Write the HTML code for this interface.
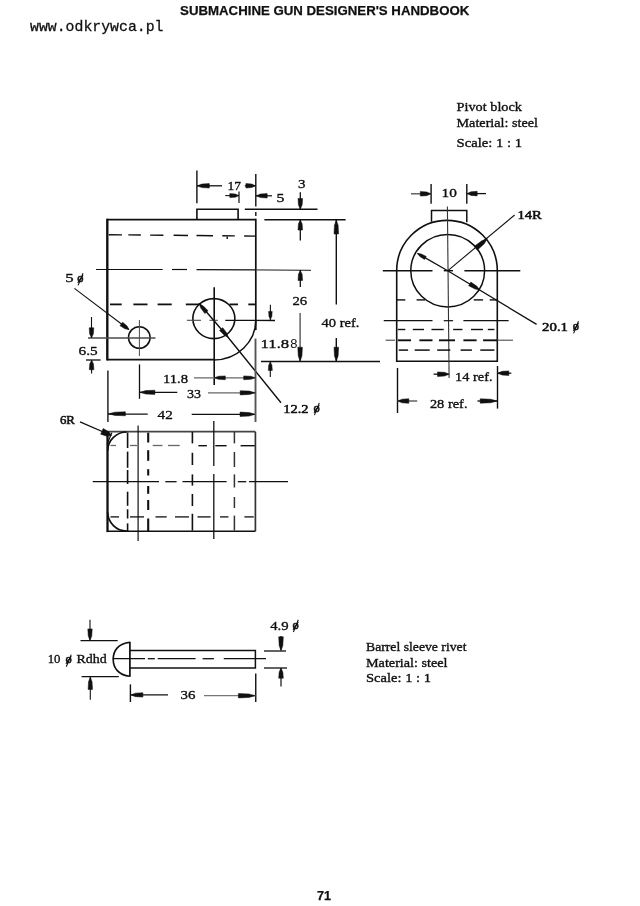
<!DOCTYPE html>
<html lang="en">
<head>
<meta charset="utf-8">
<title>Submachine Gun Designer's Handbook - page 71</title>
<style>
html,body{margin:0;padding:0;background:#fff;}
body{width:640px;height:906px;overflow:hidden;position:relative;}
svg{display:block;position:absolute;left:0;top:0;filter:blur(0.45px);}
text{fill:#101010;}
.s{font-family:"Liberation Serif","DejaVu Serif",serif;}
.ss{font-family:"Liberation Sans","DejaVu Sans",sans-serif;}
.hb{font-family:"Liberation Sans","DejaVu Sans",sans-serif;font-weight:bold;stroke:#101010;stroke-width:0.25px;}
.m{font-family:"Liberation Mono","DejaVu Sans Mono",monospace;stroke:#101010;stroke-width:0.3px;}
.b{stroke:#101010;stroke-width:0.35px;}
.bb{stroke:#101010;stroke-width:0.55px;}
</style>
</head>
<body>
<svg width="640" height="906" viewBox="0 0 640 906">
<text x="324.7" y="15.2" font-size="12.7" class="hb" text-anchor="middle" textLength="289.2" lengthAdjust="spacingAndGlyphs" >SUBMACHINE GUN DESIGNER&#39;S HANDBOOK</text>
<text x="30" y="31" font-size="15" class="m" text-anchor="start" textLength="133.5" lengthAdjust="spacingAndGlyphs" >www.odkrywca.pl</text>
<text x="456.5" y="111.1" font-size="13.3" class="s b" text-anchor="start" textLength="65.5" lengthAdjust="spacingAndGlyphs" >Pivot block</text>
<text x="456.5" y="126.6" font-size="13.3" class="s b" text-anchor="start" textLength="81.5" lengthAdjust="spacingAndGlyphs" >Material: steel</text>
<text x="456.5" y="146.6" font-size="13.3" class="s b" text-anchor="start" textLength="65.5" lengthAdjust="spacingAndGlyphs" >Scale: 1 : 1</text>
<text x="366" y="651.4" font-size="13.3" class="s b" text-anchor="start" textLength="100.5" lengthAdjust="spacingAndGlyphs" >Barrel sleeve rivet</text>
<text x="366" y="666.7" font-size="13.3" class="s b" text-anchor="start" textLength="81.5" lengthAdjust="spacingAndGlyphs" >Material: steel</text>
<text x="366" y="681.8" font-size="13.3" class="s b" text-anchor="start" textLength="65" lengthAdjust="spacingAndGlyphs" >Scale: 1 : 1</text>
<text x="324.1" y="900" font-size="12.6" class="hb" text-anchor="middle" >71</text>
<path d="M107.3,219.6 L255.8,219.6" fill="none" stroke="#101010" stroke-width="1.9" stroke-linejoin="miter"/>
<path d="M107.3,218.7 L107.3,360.5" fill="none" stroke="#101010" stroke-width="2.4" stroke-linejoin="miter"/>
<path d="M107.3,359.6 L214.0,359.6" fill="none" stroke="#101010" stroke-width="1.9" stroke-linejoin="miter"/>
<path d="M255.8,218.7 L255.8,330" fill="none" stroke="#101010" stroke-width="1.7" stroke-linejoin="miter"/>
<path d="M214.0,359.90000000000003 A41.8,39.9 0 0 0 255.8,320" fill="none" stroke="#101010" stroke-width="1.5" stroke-linejoin="miter"/>
<path d="M196.9,219.6 L196.9,209.3 L238.1,209.3 L238.1,219.6" fill="none" stroke="#101010" stroke-width="1.6" stroke-linejoin="miter"/>
<line x1="108.75" y1="234.71" x2="122" y2="234.83" stroke="#101010" stroke-width="1.4"/>
<line x1="128.3" y1="234.89" x2="140.8" y2="235.01" stroke="#101010" stroke-width="1.4"/>
<line x1="150.2" y1="235.1" x2="163.4" y2="235.23" stroke="#101010" stroke-width="1.4"/>
<line x1="173.6" y1="235.32" x2="188" y2="235.46" stroke="#101010" stroke-width="1.4"/>
<line x1="196.5" y1="235.54" x2="213" y2="235.7" stroke="#101010" stroke-width="1.4"/>
<line x1="222.3" y1="235.79" x2="234.8" y2="235.9" stroke="#101010" stroke-width="1.4"/>
<line x1="244.2" y1="235.99" x2="255" y2="236.1" stroke="#101010" stroke-width="1.4"/>
<line x1="227.2" y1="236.5" x2="227.2" y2="239" stroke="#101010" stroke-width="1.4"/>
<line x1="96" y1="269.5" x2="162.7" y2="269.5" stroke="#101010" stroke-width="1.2"/>
<line x1="172" y1="269.5" x2="187" y2="269.5" stroke="#101010" stroke-width="1.2"/>
<line x1="196.5" y1="269.7" x2="255.8" y2="269.9" stroke="#101010" stroke-width="1.2"/>
<line x1="255.8" y1="269.9" x2="311" y2="270.4" stroke="#4a4a4a" stroke-width="1.3"/>
<line x1="110" y1="304.4" x2="121.7" y2="304.4" stroke="#101010" stroke-width="1.8"/>
<line x1="133.4" y1="304.4" x2="147.5" y2="304.4" stroke="#101010" stroke-width="1.8"/>
<line x1="157.6" y1="304.4" x2="171.7" y2="304.4" stroke="#101010" stroke-width="1.8"/>
<line x1="185.8" y1="304.4" x2="199" y2="304.4" stroke="#101010" stroke-width="1.8"/>
<line x1="229.5" y1="304.4" x2="238" y2="304.4" stroke="#101010" stroke-width="1.8"/>
<line x1="248.3" y1="304.4" x2="255.3" y2="304.4" stroke="#101010" stroke-width="1.8"/>
<circle cx="139.3" cy="337.5" r="10.8" fill="none" stroke="#101010" stroke-width="1.5"/>
<ellipse cx="213.85" cy="318.6" rx="21.0" ry="20.0" fill="none" stroke="#101010" stroke-width="1.6"/>
<line x1="139.4" y1="320" x2="139.4" y2="356" stroke="#4a4a4a" stroke-width="1.0"/>
<line x1="88" y1="338" x2="155.5" y2="338" stroke="#4a4a4a" stroke-width="1.4"/>
<line x1="214.2" y1="287.3" x2="214.2" y2="385" stroke="#101010" stroke-width="1.6"/>
<line x1="186.9" y1="320.3" x2="201" y2="320.3" stroke="#4a4a4a" stroke-width="1.1"/>
<line x1="209.4" y1="320.3" x2="217.8" y2="320.3" stroke="#4a4a4a" stroke-width="1.1"/>
<line x1="225.3" y1="320.4" x2="275" y2="320.5" stroke="#101010" stroke-width="1.3"/>
<path d="M199.0,303.2 L226.2,335.0 L281,402.7" fill="none" stroke="#101010" stroke-width="1.4" stroke-linejoin="miter"/>
<polygon points="199.30,303.80 203.29,305.89 208.04,310.80 204.85,313.53 200.74,308.07" fill="#101010" stroke="#101010" stroke-width="0.5" stroke-linejoin="round"/>
<polygon points="228.30,337.40 224.31,335.31 219.56,330.40 222.75,327.67 226.86,333.13" fill="#101010" stroke="#101010" stroke-width="0.5" stroke-linejoin="round"/>
<text x="283.35" y="413" font-size="13.3" class="s bb" text-anchor="start" textLength="25.25" lengthAdjust="spacingAndGlyphs" >12.2</text>
<text x="316.6" y="411.77" font-size="12.5" class="s bb" text-anchor="middle">ø</text>
<line x1="314.4" y1="415.1" x2="319.3" y2="402.9" stroke="#101010" stroke-width="1.1"/>
<line x1="74.4" y1="288.4" x2="128.75" y2="329.5" stroke="#101010" stroke-width="1.1"/>
<polygon points="128.90,329.60 124.96,328.83 119.99,325.64 122.64,322.13 127.08,326.02" fill="#101010" stroke="#101010" stroke-width="0.5" stroke-linejoin="round"/>
<text x="65.2" y="281.9" font-size="13.3" class="s b" text-anchor="start" textLength="8.4" lengthAdjust="spacingAndGlyphs" >5</text>
<text x="80.3" y="282.07" font-size="12.5" class="s bb" text-anchor="middle">ø</text>
<line x1="78.1" y1="285.4" x2="83.0" y2="273.2" stroke="#101010" stroke-width="1.1"/>
<line x1="91.5" y1="317" x2="91.5" y2="338" stroke="#101010" stroke-width="1.1"/>
<polygon points="91.50,337.80 89.66,334.00 89.20,327.80 93.80,327.80 93.34,334.00" fill="#101010" stroke="#101010" stroke-width="0.5" stroke-linejoin="round"/>
<line x1="86" y1="360" x2="100.6" y2="360" stroke="#101010" stroke-width="1.3"/>
<line x1="91.6" y1="360" x2="91.6" y2="373.5" stroke="#101010" stroke-width="1.1"/>
<polygon points="91.60,360.20 93.44,363.81 93.90,369.70 89.30,369.70 89.76,363.81" fill="#101010" stroke="#101010" stroke-width="0.5" stroke-linejoin="round"/>
<text x="78.6" y="354.5" font-size="13.3" class="s b" text-anchor="start" textLength="19.1" lengthAdjust="spacingAndGlyphs" >6.5</text>
<line x1="196.9" y1="170.5" x2="196.9" y2="203.3" stroke="#101010" stroke-width="1.4"/>
<line x1="255.8" y1="174" x2="255.8" y2="206.4" stroke="#101010" stroke-width="1.4"/>
<line x1="255.8" y1="212" x2="255.8" y2="216" stroke="#101010" stroke-width="1.4"/>
<line x1="196.9" y1="185.8" x2="222" y2="185.8" stroke="#101010" stroke-width="1.3"/>
<polygon points="197.30,185.80 201.86,184.04 209.30,183.60 209.30,188.00 201.86,187.56" fill="#101010" stroke="#101010" stroke-width="0.5" stroke-linejoin="round"/>
<line x1="244.8" y1="185.8" x2="255.8" y2="185.8" stroke="#101010" stroke-width="1.3"/>
<polygon points="255.40,185.80 251.79,187.56 245.90,188.00 245.90,183.60 251.79,184.04" fill="#101010" stroke="#101010" stroke-width="0.5" stroke-linejoin="round"/>
<text x="227.6" y="190" font-size="13.3" class="s b" text-anchor="start" textLength="13.5" lengthAdjust="spacingAndGlyphs" >17</text>
<line x1="239" y1="191.5" x2="239" y2="203" stroke="#101010" stroke-width="1.2"/>
<line x1="225.3" y1="195.6" x2="239" y2="195.6" stroke="#101010" stroke-width="1.1"/>
<polygon points="238.80,195.60 235.38,197.20 229.80,197.60 229.80,193.60 235.38,194.00" fill="#101010" stroke="#101010" stroke-width="0.5" stroke-linejoin="round"/>
<line x1="255.8" y1="195.8" x2="272" y2="195.8" stroke="#101010" stroke-width="1.2"/>
<polygon points="256.20,195.80 260.38,194.04 267.20,193.60 267.20,198.00 260.38,197.56" fill="#101010" stroke="#101010" stroke-width="0.5" stroke-linejoin="round"/>
<text x="276.6" y="202" font-size="13.3" class="s b" text-anchor="start" textLength="7.9" lengthAdjust="spacingAndGlyphs" >5</text>
<text x="298.0" y="188.4" font-size="13.3" class="s b" text-anchor="start" textLength="7.5" lengthAdjust="spacingAndGlyphs" >3</text>
<line x1="244.8" y1="209.3" x2="317.5" y2="209.3" stroke="#101010" stroke-width="1.5"/>
<line x1="264.4" y1="219.7" x2="345.6" y2="219.7" stroke="#101010" stroke-width="1.5"/>
<line x1="300.3" y1="192.3" x2="300.3" y2="209.2" stroke="#101010" stroke-width="1.3"/>
<polygon points="300.30,209.00 298.46,205.01 298.00,198.50 302.60,198.50 302.14,205.01" fill="#101010" stroke="#101010" stroke-width="0.5" stroke-linejoin="round"/>
<line x1="300.3" y1="219.7" x2="300.3" y2="240.5" stroke="#101010" stroke-width="1.3"/>
<polygon points="300.30,220.00 302.14,223.80 302.60,230.00 298.00,230.00 298.46,223.80" fill="#101010" stroke="#101010" stroke-width="0.5" stroke-linejoin="round"/>
<line x1="336.3" y1="219.7" x2="336.3" y2="304.5" stroke="#101010" stroke-width="1.4"/>
<polygon points="336.30,220.00 338.14,225.32 338.60,234.00 334.00,234.00 334.46,225.32" fill="#101010" stroke="#101010" stroke-width="0.5" stroke-linejoin="round"/>
<line x1="336.3" y1="338" x2="336.3" y2="361.5" stroke="#101010" stroke-width="1.4"/>
<polygon points="336.30,361.20 334.46,355.88 334.00,347.20 338.60,347.20 338.14,355.88" fill="#101010" stroke="#101010" stroke-width="0.5" stroke-linejoin="round"/>
<text x="321.5" y="327.3" font-size="13.3" class="s b" text-anchor="start" textLength="37.9" lengthAdjust="spacingAndGlyphs" >40 ref.</text>
<line x1="300.3" y1="270" x2="300.3" y2="287" stroke="#101010" stroke-width="1.3"/>
<polygon points="300.30,270.50 302.14,274.30 302.60,280.50 298.00,280.50 298.46,274.30" fill="#101010" stroke="#101010" stroke-width="0.5" stroke-linejoin="round"/>
<line x1="300.1" y1="313" x2="300.1" y2="361.5" stroke="#4a4a4a" stroke-width="1.3"/>
<polygon points="300.10,361.20 298.26,355.88 297.80,347.20 302.40,347.20 301.94,355.88" fill="#101010" stroke="#101010" stroke-width="0.5" stroke-linejoin="round"/>
<text x="292.4" y="305.2" font-size="13.3" class="s b" text-anchor="start" textLength="14.7" lengthAdjust="spacingAndGlyphs" >26</text>
<line x1="261" y1="361.6" x2="380" y2="361.6" stroke="#101010" stroke-width="1.5"/>
<text x="260.6" y="348.4" font-size="13.3" class="s b" text-anchor="start" textLength="28.65" lengthAdjust="spacingAndGlyphs" >11.8</text>
<text x="290.2" y="348.4" font-size="13" class="ss" text-anchor="start" textLength="7.2" lengthAdjust="spacingAndGlyphs" >8</text>
<line x1="270.4" y1="304.7" x2="270.4" y2="320" stroke="#101010" stroke-width="1.1"/>
<polygon points="270.40,319.40 268.96,316.36 268.60,311.40 272.20,311.40 271.84,316.36" fill="#101010" stroke="#101010" stroke-width="0.5" stroke-linejoin="round"/>
<line x1="270.3" y1="361.5" x2="270.3" y2="377" stroke="#101010" stroke-width="1.1"/>
<polygon points="270.30,361.90 271.90,365.13 272.30,370.40 268.30,370.40 268.70,365.13" fill="#101010" stroke="#101010" stroke-width="0.5" stroke-linejoin="round"/>
<line x1="255.5" y1="338.6" x2="255.5" y2="422" stroke="#555" stroke-width="1.9"/>
<text x="162.9" y="382.8" font-size="13.3" class="s b" text-anchor="start" textLength="25.1" lengthAdjust="spacingAndGlyphs" >11.8</text>
<line x1="194" y1="377.8" x2="255" y2="377.8" stroke="#666" stroke-width="1.2"/>
<polygon points="214.30,377.80 218.48,376.28 225.30,375.90 225.30,379.70 218.48,379.32" fill="#101010" stroke="#101010" stroke-width="0.5" stroke-linejoin="round"/>
<polygon points="255.20,377.80 250.83,379.32 243.70,379.70 243.70,375.90 250.83,376.28" fill="#101010" stroke="#101010" stroke-width="0.5" stroke-linejoin="round"/>
<line x1="139.5" y1="364.4" x2="139.5" y2="398.8" stroke="#101010" stroke-width="1.3"/>
<line x1="139.5" y1="392.3" x2="177.3" y2="392.3" stroke="#101010" stroke-width="1.3"/>
<polygon points="139.90,392.30 145.60,390.62 154.90,390.20 154.90,394.40 145.60,393.98" fill="#101010" stroke="#101010" stroke-width="0.5" stroke-linejoin="round"/>
<line x1="208" y1="392.8" x2="255" y2="392.8" stroke="#666" stroke-width="1.3"/>
<polygon points="255.20,392.80 249.50,394.48 240.20,394.90 240.20,390.70 249.50,391.12" fill="#101010" stroke="#101010" stroke-width="0.5" stroke-linejoin="round"/>
<text x="187.1" y="397.5" font-size="13.3" class="s b" text-anchor="start" textLength="14.0" lengthAdjust="spacingAndGlyphs" >33</text>
<line x1="107.9" y1="370.6" x2="107.9" y2="422" stroke="#333" stroke-width="1.6"/>
<line x1="108" y1="414.1" x2="147.7" y2="414.1" stroke="#101010" stroke-width="1.3"/>
<polygon points="108.40,413.80 114.86,412.20 125.40,411.80 125.40,415.80 114.86,415.40" fill="#101010" stroke="#101010" stroke-width="0.5" stroke-linejoin="round"/>
<line x1="191.7" y1="414.3" x2="254.3" y2="414.3" stroke="#101010" stroke-width="1.3"/>
<polygon points="255.00,414.30 249.30,416.06 240.00,416.50 240.00,412.10 249.30,412.54" fill="#101010" stroke="#101010" stroke-width="0.5" stroke-linejoin="round"/>
<text x="157.6" y="418.8" font-size="13.3" class="s b" text-anchor="start" textLength="15.2" lengthAdjust="spacingAndGlyphs" >42</text>
<path d="M396.7,361.3 L396.7,270.6 A50.3,50.3 0 0 1 497.3,270.6 L497.3,361.3 Z" fill="none" stroke="#101010" stroke-width="1.6" stroke-linejoin="miter"/>
<ellipse cx="447.7" cy="270.7" rx="36.9" ry="36.2" fill="none" stroke="#101010" stroke-width="1.5"/>
<path d="M431.5,221.8 L431.5,210.4 L466.8,210.4 L466.8,222.2" fill="none" stroke="#101010" stroke-width="1.5" stroke-linejoin="miter"/>
<line x1="447.4" y1="206.6" x2="449.1" y2="378" stroke="#333" stroke-width="1.1"/>
<line x1="382.8" y1="270.7" x2="432.5" y2="270.7" stroke="#101010" stroke-width="1.4"/>
<line x1="443.75" y1="270.7" x2="453" y2="270.7" stroke="#101010" stroke-width="1.4"/>
<line x1="464.4" y1="270.7" x2="520.3" y2="270.7" stroke="#101010" stroke-width="1.4"/>
<line x1="396.9" y1="299.9" x2="405.3" y2="299.9" stroke="#101010" stroke-width="1.4"/>
<line x1="416.6" y1="299.9" x2="425" y2="299.9" stroke="#101010" stroke-width="1.4"/>
<line x1="473.75" y1="299.9" x2="483.1" y2="299.9" stroke="#101010" stroke-width="1.4"/>
<line x1="489.7" y1="299.9" x2="497.2" y2="299.9" stroke="#101010" stroke-width="1.4"/>
<line x1="383.75" y1="320.7" x2="432.5" y2="320.7" stroke="#101010" stroke-width="1.2"/>
<line x1="443.75" y1="320.7" x2="453.1" y2="320.7" stroke="#101010" stroke-width="1.2"/>
<line x1="463.4" y1="320.7" x2="508.6" y2="320.7" stroke="#101010" stroke-width="1.2"/>
<line x1="397.8" y1="329.5" x2="405.3" y2="329.5" stroke="#101010" stroke-width="1.4"/>
<line x1="412.8" y1="329.5" x2="424" y2="329.5" stroke="#101010" stroke-width="1.4"/>
<line x1="431.5" y1="329.5" x2="443.75" y2="329.5" stroke="#101010" stroke-width="1.4"/>
<line x1="453.1" y1="329.5" x2="462.5" y2="329.5" stroke="#101010" stroke-width="1.4"/>
<line x1="471" y1="329.5" x2="483" y2="329.5" stroke="#101010" stroke-width="1.4"/>
<line x1="487.8" y1="329.5" x2="494.4" y2="329.5" stroke="#101010" stroke-width="1.4"/>
<line x1="397.8" y1="340.3" x2="411" y2="340.3" stroke="#101010" stroke-width="1.9"/>
<line x1="419.4" y1="340.3" x2="432.5" y2="340.3" stroke="#101010" stroke-width="1.9"/>
<line x1="439" y1="340.3" x2="455" y2="340.3" stroke="#101010" stroke-width="1.9"/>
<line x1="463.4" y1="340.3" x2="476.6" y2="340.3" stroke="#101010" stroke-width="1.9"/>
<line x1="483.1" y1="340.3" x2="497.2" y2="340.3" stroke="#101010" stroke-width="1.9"/>
<line x1="385.6" y1="340.2" x2="395" y2="340.2" stroke="#4a4a4a" stroke-width="1.1"/>
<line x1="497.2" y1="340.2" x2="513" y2="340.2" stroke="#4a4a4a" stroke-width="1.1"/>
<line x1="398.75" y1="350.1" x2="408.1" y2="350.1" stroke="#101010" stroke-width="1.5"/>
<line x1="414.7" y1="350.1" x2="429.7" y2="350.1" stroke="#101010" stroke-width="1.5"/>
<line x1="437.2" y1="350.1" x2="450.3" y2="350.1" stroke="#101010" stroke-width="1.5"/>
<line x1="460.6" y1="350.1" x2="471.9" y2="350.1" stroke="#101010" stroke-width="1.5"/>
<line x1="480.3" y1="350.1" x2="494.4" y2="350.1" stroke="#101010" stroke-width="1.5"/>
<text x="441.5" y="197.3" font-size="13.3" class="s b" text-anchor="start" textLength="15.3" lengthAdjust="spacingAndGlyphs" >10</text>
<line x1="431.1" y1="184" x2="431.1" y2="203.75" stroke="#101010" stroke-width="1.4"/>
<line x1="466.8" y1="184" x2="466.8" y2="203.75" stroke="#101010" stroke-width="1.4"/>
<line x1="411" y1="193.8" x2="431.3" y2="193.8" stroke="#4a4a4a" stroke-width="1.3"/>
<polygon points="430.80,193.80 426.81,195.64 420.30,196.10 420.30,191.50 426.81,191.96" fill="#101010" stroke="#101010" stroke-width="0.5" stroke-linejoin="round"/>
<line x1="466.8" y1="193.6" x2="486" y2="193.6" stroke="#101010" stroke-width="1.3"/>
<polygon points="467.20,193.60 471.00,191.76 477.20,191.30 477.20,195.90 471.00,195.44" fill="#101010" stroke="#101010" stroke-width="0.5" stroke-linejoin="round"/>
<text x="517.4" y="218.8" font-size="13.3" class="s bb" text-anchor="start" textLength="24.35" lengthAdjust="spacingAndGlyphs" >14R</text>
<line x1="514.6" y1="215" x2="448.2" y2="270.3" stroke="#101010" stroke-width="1.1"/>
<polygon points="487.40,238.60 484.25,243.72 477.41,250.05 474.34,246.36 481.79,240.77" fill="#101010" stroke="#101010" stroke-width="0.5" stroke-linejoin="round"/>
<text x="542.1" y="330.8" font-size="13.3" class="s bb" text-anchor="start" textLength="25.9" lengthAdjust="spacingAndGlyphs" >20.1</text>
<text x="575.8" y="330.07" font-size="12.5" class="s bb" text-anchor="middle">ø</text>
<line x1="573.6" y1="333.4" x2="578.5" y2="321.2" stroke="#101010" stroke-width="1.1"/>
<path d="M417.5,253.4 L447.7,270.7 L536.6,324.4" fill="none" stroke="#101010" stroke-width="1.3" stroke-linejoin="miter"/>
<polygon points="417.60,253.50 421.28,253.96 426.29,256.44 424.49,259.56 419.84,256.46" fill="#101010" stroke="#101010" stroke-width="0.5" stroke-linejoin="round"/>
<polygon points="479.60,289.80 474.99,288.99 468.66,285.68 470.82,282.08 476.72,286.11" fill="#101010" stroke="#101010" stroke-width="0.5" stroke-linejoin="round"/>
<line x1="397.5" y1="368" x2="397.5" y2="413" stroke="#101010" stroke-width="1.4"/>
<line x1="497.5" y1="366" x2="497.5" y2="408.6" stroke="#101010" stroke-width="1.4"/>
<line x1="433.6" y1="374.2" x2="448.8" y2="374.2" stroke="#101010" stroke-width="1.3"/>
<polygon points="449.00,374.20 444.63,376.04 437.50,376.50 437.50,371.90 444.63,372.36" fill="#101010" stroke="#101010" stroke-width="0.5" stroke-linejoin="round"/>
<line x1="497" y1="373.2" x2="511.3" y2="373.2" stroke="#101010" stroke-width="1.3"/>
<polygon points="497.80,373.20 501.98,371.36 508.80,370.90 508.80,375.50 501.98,375.04" fill="#101010" stroke="#101010" stroke-width="0.5" stroke-linejoin="round"/>
<text x="455.1" y="380.9" font-size="13.3" class="s b" text-anchor="start" textLength="37.4" lengthAdjust="spacingAndGlyphs" >14 ref.</text>
<line x1="397.2" y1="401" x2="417.2" y2="401" stroke="#4a4a4a" stroke-width="1.3"/>
<polygon points="397.80,401.00 401.98,399.16 408.80,398.70 408.80,403.30 401.98,402.84" fill="#101010" stroke="#101010" stroke-width="0.5" stroke-linejoin="round"/>
<line x1="477.4" y1="401" x2="497" y2="401" stroke="#101010" stroke-width="1.3"/>
<polygon points="497.20,401.00 490.74,402.76 480.20,403.20 480.20,398.80 490.74,399.24" fill="#101010" stroke="#101010" stroke-width="0.5" stroke-linejoin="round"/>
<text x="429.9" y="408.3" font-size="13.3" class="s b" text-anchor="start" textLength="37.6" lengthAdjust="spacingAndGlyphs" >28 ref.</text>
<path d="M107.3,431.7 L255.4,431.7" fill="none" stroke="#444" stroke-width="1.8" stroke-linejoin="miter"/>
<path d="M255.4,431.7 L255.4,531.3" fill="none" stroke="#333" stroke-width="1.7" stroke-linejoin="miter"/>
<path d="M107.3,531.3 L255.4,531.3" fill="none" stroke="#101010" stroke-width="1.6" stroke-linejoin="miter"/>
<path d="M107.5,433.7 L107.5,532.0999999999999" fill="none" stroke="#101010" stroke-width="2.3" stroke-linejoin="miter"/>
<path d="M107.7,450.7 A19,19 0 0 1 126.8,432.0" fill="none" stroke="#101010" stroke-width="1.7" stroke-linejoin="miter"/>
<path d="M107.7,512.3 A19,19 0 0 0 126.8,531.0" fill="none" stroke="#101010" stroke-width="1.7" stroke-linejoin="miter"/>
<path d="M107.3,443.7 L111.8,432.7" fill="none" stroke="#101010" stroke-width="1.2" stroke-linejoin="miter"/>
<line x1="92.75" y1="481.7" x2="159" y2="481.7" stroke="#101010" stroke-width="1.3"/>
<line x1="165.3" y1="481.7" x2="176.6" y2="481.7" stroke="#101010" stroke-width="1.3"/>
<line x1="182.5" y1="481.7" x2="226.6" y2="481.7" stroke="#101010" stroke-width="1.3"/>
<line x1="237.8" y1="481.7" x2="246.25" y2="481.7" stroke="#101010" stroke-width="1.3"/>
<line x1="249" y1="481.7" x2="288" y2="481.7" stroke="#101010" stroke-width="1.3"/>
<line x1="110.5" y1="445.5" x2="116" y2="445.5" stroke="#666" stroke-width="1.3"/>
<line x1="130" y1="445.5" x2="137" y2="445.5" stroke="#666" stroke-width="1.3"/>
<line x1="152.7" y1="445.5" x2="162.5" y2="445.5" stroke="#666" stroke-width="1.3"/>
<line x1="168" y1="445.5" x2="179.7" y2="445.5" stroke="#666" stroke-width="1.3"/>
<line x1="198.4" y1="445.7" x2="206.9" y2="445.7" stroke="#101010" stroke-width="1.4"/>
<line x1="215.3" y1="445.7" x2="226.6" y2="445.7" stroke="#101010" stroke-width="1.4"/>
<line x1="240.6" y1="445.7" x2="254.7" y2="445.7" stroke="#101010" stroke-width="1.4"/>
<line x1="110.5" y1="516.9" x2="119" y2="516.9" stroke="#101010" stroke-width="1.3"/>
<line x1="130" y1="516.9" x2="144" y2="516.9" stroke="#101010" stroke-width="1.3"/>
<line x1="155.5" y1="516.9" x2="166.7" y2="516.9" stroke="#101010" stroke-width="1.3"/>
<line x1="175" y1="516.9" x2="189" y2="516.9" stroke="#101010" stroke-width="1.3"/>
<line x1="197.5" y1="516.9" x2="210.6" y2="516.9" stroke="#101010" stroke-width="1.3"/>
<line x1="220" y1="516.9" x2="228.4" y2="516.9" stroke="#101010" stroke-width="1.3"/>
<line x1="244.4" y1="516.9" x2="253.75" y2="516.9" stroke="#101010" stroke-width="1.3"/>
<line x1="127.6" y1="432.5" x2="127.6" y2="448" stroke="#101010" stroke-width="1.6"/>
<line x1="127.6" y1="451.6" x2="127.6" y2="467.8" stroke="#101010" stroke-width="1.6"/>
<line x1="127.6" y1="470" x2="127.6" y2="484" stroke="#101010" stroke-width="1.6"/>
<line x1="127.6" y1="491.7" x2="127.6" y2="505.8" stroke="#101010" stroke-width="1.6"/>
<line x1="127.6" y1="509.3" x2="127.6" y2="518.5" stroke="#101010" stroke-width="1.6"/>
<line x1="127.6" y1="523.4" x2="127.6" y2="531" stroke="#101010" stroke-width="1.6"/>
<line x1="148.2" y1="432.7" x2="148.2" y2="442.5" stroke="#101010" stroke-width="2.1"/>
<line x1="148.2" y1="450.2" x2="148.2" y2="460.8" stroke="#101010" stroke-width="2.1"/>
<line x1="148.2" y1="469.2" x2="148.2" y2="475.5" stroke="#101010" stroke-width="2.1"/>
<line x1="148.2" y1="486" x2="148.2" y2="493.8" stroke="#101010" stroke-width="2.1"/>
<line x1="148.2" y1="500" x2="148.2" y2="510" stroke="#101010" stroke-width="2.1"/>
<line x1="148.2" y1="518.5" x2="148.2" y2="531" stroke="#101010" stroke-width="2.1"/>
<line x1="192.4" y1="432" x2="192.4" y2="443.4" stroke="#101010" stroke-width="1.6"/>
<line x1="192.4" y1="452.8" x2="192.4" y2="465" stroke="#101010" stroke-width="1.6"/>
<line x1="192.4" y1="474.4" x2="192.4" y2="485.6" stroke="#101010" stroke-width="1.6"/>
<line x1="192.4" y1="494" x2="192.4" y2="506" stroke="#101010" stroke-width="1.6"/>
<line x1="192.4" y1="513.75" x2="192.4" y2="530.6" stroke="#101010" stroke-width="1.6"/>
<line x1="234.4" y1="432" x2="234.4" y2="443.4" stroke="#333" stroke-width="1.5"/>
<line x1="234.4" y1="452" x2="234.4" y2="467" stroke="#333" stroke-width="1.5"/>
<line x1="234.4" y1="474.4" x2="234.4" y2="487.5" stroke="#333" stroke-width="1.5"/>
<line x1="234.4" y1="497" x2="234.4" y2="508" stroke="#333" stroke-width="1.5"/>
<line x1="234.4" y1="515.6" x2="234.4" y2="530.6" stroke="#333" stroke-width="1.5"/>
<line x1="138.1" y1="425.6" x2="138.1" y2="541" stroke="#101010" stroke-width="1.2"/>
<line x1="213.8" y1="421" x2="213.8" y2="466" stroke="#101010" stroke-width="1.3"/>
<line x1="213.8" y1="474" x2="213.8" y2="539" stroke="#101010" stroke-width="1.3"/>
<text x="59.9" y="423.9" font-size="13.3" class="s bb" text-anchor="start" textLength="15.0" lengthAdjust="spacingAndGlyphs" >6R</text>
<line x1="80" y1="421.9" x2="108" y2="434" stroke="#101010" stroke-width="1.3"/>
<polygon points="111.50,435.60 106.85,436.24 100.65,434.16 103.17,428.50 108.86,431.71" fill="#101010" stroke="#101010" stroke-width="0.5" stroke-linejoin="round"/>
<path d="M129.8,642.4 C118,643.5 113.2,651 113.2,659.2 C113.2,667.5 118,675 129.8,676.2" fill="none" stroke="#101010" stroke-width="1.6" stroke-linejoin="miter"/>
<line x1="129.9" y1="641.8" x2="129.9" y2="676.8" stroke="#101010" stroke-width="1.7"/>
<path d="M129.8,650.6 L255.4,650.6 L255.4,668 L129.8,668" fill="none" stroke="#101010" stroke-width="1.5" stroke-linejoin="miter"/>
<line x1="112.7" y1="658.7" x2="145" y2="658.7" stroke="#101010" stroke-width="1.3"/>
<line x1="147.8" y1="658.7" x2="154.8" y2="658.7" stroke="#101010" stroke-width="1.3"/>
<line x1="157.7" y1="658.7" x2="195.6" y2="658.7" stroke="#101010" stroke-width="1.3"/>
<line x1="202.6" y1="658.7" x2="213.9" y2="658.7" stroke="#101010" stroke-width="1.3"/>
<line x1="223.75" y1="658.7" x2="266" y2="658.7" stroke="#101010" stroke-width="1.3"/>
<text x="47.7" y="663.2" font-size="13.3" class="s b" text-anchor="start" textLength="12.8" lengthAdjust="spacingAndGlyphs" >10</text>
<text x="68.5" y="663.48" font-size="12.5" class="s bb" text-anchor="middle">ø</text>
<line x1="66.3" y1="666.8" x2="71.2" y2="654.6" stroke="#101010" stroke-width="1.1"/>
<text x="76.5" y="663.2" font-size="13.3" class="s b" text-anchor="start" textLength="30.25" lengthAdjust="spacingAndGlyphs" >Rdhd</text>
<line x1="80.5" y1="640.7" x2="117.7" y2="640.7" stroke="#101010" stroke-width="1.2"/>
<line x1="81.6" y1="676.7" x2="118.75" y2="676.7" stroke="#101010" stroke-width="1.2"/>
<line x1="90" y1="619.8" x2="90" y2="640" stroke="#101010" stroke-width="1.1"/>
<polygon points="90.00,640.40 88.24,636.03 87.80,628.90 92.20,628.90 91.76,636.03" fill="#101010" stroke="#101010" stroke-width="0.5" stroke-linejoin="round"/>
<line x1="90.3" y1="677" x2="90.3" y2="699.7" stroke="#101010" stroke-width="1.1"/>
<polygon points="90.30,677.00 92.06,681.75 92.50,689.50 88.10,689.50 88.54,681.75" fill="#101010" stroke="#101010" stroke-width="0.5" stroke-linejoin="round"/>
<line x1="130.4" y1="684.4" x2="130.4" y2="702" stroke="#101010" stroke-width="1.4"/>
<line x1="255.75" y1="673.4" x2="255.75" y2="702" stroke="#101010" stroke-width="1.4"/>
<line x1="130.5" y1="694.9" x2="168" y2="694.9" stroke="#101010" stroke-width="1.3"/>
<polygon points="130.90,694.90 135.46,693.14 142.90,692.70 142.90,697.10 135.46,696.66" fill="#101010" stroke="#101010" stroke-width="0.5" stroke-linejoin="round"/>
<line x1="204" y1="695.7" x2="255.7" y2="695.7" stroke="#777" stroke-width="1.3"/>
<polygon points="255.40,695.70 248.94,697.46 238.40,697.90 238.40,693.50 248.94,693.94" fill="#101010" stroke="#101010" stroke-width="0.5" stroke-linejoin="round"/>
<text x="180.6" y="699.3" font-size="13.3" class="s b" text-anchor="start" textLength="14.9" lengthAdjust="spacingAndGlyphs" >36</text>
<text x="270.2" y="629.6" font-size="13.3" class="s b" text-anchor="start" textLength="18.4" lengthAdjust="spacingAndGlyphs" >4.9</text>
<text x="295.6" y="628.67" font-size="12.5" class="s bb" text-anchor="middle">ø</text>
<line x1="293.4" y1="632.0" x2="298.3" y2="619.8" stroke="#101010" stroke-width="1.1"/>
<line x1="264" y1="651" x2="286" y2="651" stroke="#101010" stroke-width="1.3"/>
<line x1="264" y1="668" x2="287" y2="668" stroke="#101010" stroke-width="1.3"/>
<line x1="281" y1="636" x2="281" y2="650" stroke="#101010" stroke-width="1.2"/>
<polygon points="281.00,650.80 279.16,645.48 278.70,636.80 283.30,636.80 282.84,645.48" fill="#101010" stroke="#101010" stroke-width="0.5" stroke-linejoin="round"/>
<line x1="281" y1="668" x2="281" y2="686.6" stroke="#101010" stroke-width="1.2"/>
<polygon points="281.00,668.20 282.84,672.00 283.30,678.20 278.70,678.20 279.16,672.00" fill="#101010" stroke="#101010" stroke-width="0.5" stroke-linejoin="round"/>
</svg>
</body>
</html>
